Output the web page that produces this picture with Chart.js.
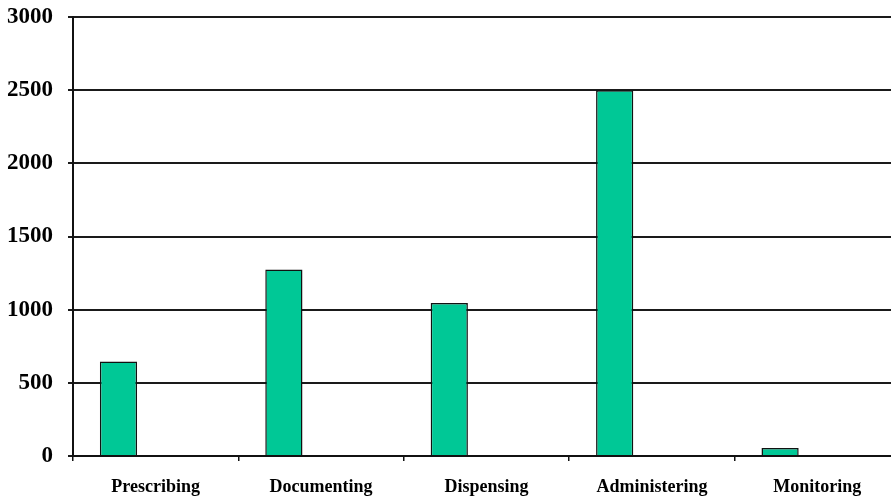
<!DOCTYPE html>
<html>
<head>
<meta charset="utf-8">
<script src="https://cdn.jsdelivr.net/npm/chart.js@4.4.1/dist/chart.umd.min.js"></script>
<style>
    html, body { margin: 0; padding: 0; background: #fff; overflow: hidden; }
    #wrap { width: 900px; height: 498px; }
</style>
</head>
<body>
<div id="wrap"><canvas id="myChart" width="900" height="498"></canvas></div>
<script>
const stages = ['Prescribing', 'Documenting', 'Dispensing', 'Administering', 'Monitoring'];
const errorCounts = [645, 1275, 1045, 2500, 55];
// second series is empty, it only reserves the right-hand slot in each group
const emptySeries = [null, null, null, null, null];
const yTicks = [0, 500, 1000, 1500, 2000, 2500, 3000];

const serif = "'Liberation Serif', 'Times New Roman', serif";

document.addEventListener('DOMContentLoaded', function () {
    const ctx = document.getElementById('myChart');

    new Chart(ctx, {
        type: 'bar',
        data: {
            labels: stages,
            datasets: [
                {
                    label: 'Errors',
                    data: errorCounts,
                    backgroundColor: '#00c896',
                    borderColor: '#111',
                    borderWidth: 1.5,
                    borderSkipped: 'bottom',
                    categoryPercentage: 0.9,
                    barPercentage: 0.5
                },
                {
                    label: '',
                    data: emptySeries,
                    backgroundColor: '#00c896',
                    categoryPercentage: 0.9,
                    barPercentage: 0.5
                }
            ]
        },
        options: {
            responsive: false,
            animation: false,
            layout: {
                padding: { top: 17, left: 0, right: 0, bottom: 0 }
            },
            scales: {
                x: {
                    afterFit: scale => { scale.height = 42; },
                    grid: {
                        drawOnChartArea: false,
                        drawTicks: true,
                        tickLength: 5,
                        color: '#111',
                        lineWidth: 1.5
                    },
                    border: { display: true, color: '#111', width: 2 },
                    ticks: {
                        color: '#000',
                        padding: 16,
                        maxRotation: 0,
                        font: { family: serif, size: 18, weight: 'bold' }
                    }
                },
                y: {
                    min: 0,
                    max: 3000,
                    afterFit: scale => {
                        scale.width = 73;
                        // let the top label overhang instead of pushing the plot down
                        scale.paddingTop = 0;
                        scale.paddingBottom = 0;
                    },
                    afterBuildTicks: axis => {
                        axis.ticks = yTicks.map(v => ({ value: v }));
                    },
                    grid: {
                        color: '#1a1a1a',
                        lineWidth: 2,
                        drawTicks: true,
                        tickLength: 5
                    },
                    border: { display: true, color: '#111', width: 2 },
                    ticks: {
                        color: '#000',
                        padding: 15,
                        callback: value => String(value),
                        font: { family: serif, size: 23, weight: 'bold' }
                    }
                }
            },
            plugins: {
                legend: { display: false },
                tooltip: { enabled: false }
            }
        }
    });
});
</script>
</body>
</html>
